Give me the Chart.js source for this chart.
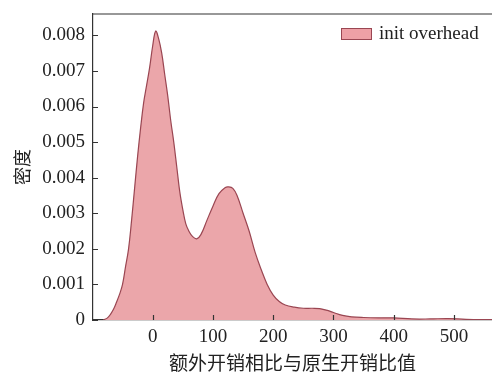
<!DOCTYPE html>
<html>
<head>
<meta charset="utf-8">
<script src="https://cdn.jsdelivr.net/npm/chart.js@4/dist/chart.umd.min.js"></script>
<style>
  html, body { margin:0; padding:0; background:#fff; }
  canvas { display:block; }
</style>
</head>
<body>
<canvas id="kdeChart" width="492" height="372"></canvas>
<script>

// density curve
const overheadX = [
  -82, -75, -70, -65, -60, -55, -50, -45, -40, -35, -30, -25, -20, -15, -10, -5,
  0, 5, 10, 15, 20, 25, 30, 35, 40, 45, 50, 55, 60, 66, 73, 80, 90, 100, 110,
  120, 126, 133, 140, 150, 160, 170, 180, 190, 200, 210, 220, 235, 250, 265,
  277, 290, 300, 315, 330, 350, 375, 400, 430, 460, 490, 520, 563
]
const overheadDensity = [
  0, 0.00006, 0.00016, 0.0003, 0.0005, 0.00072, 0.001, 0.0015, 0.002, 0.0028,
  0.0037, 0.0046, 0.0054, 0.0061, 0.0066, 0.0071,
  0.0077, 0.00812, 0.0079, 0.0075, 0.0069, 0.0063, 0.0056, 0.005, 0.0043,
  0.0036, 0.0031, 0.0027, 0.0025, 0.00235, 0.00228, 0.0024, 0.0028, 0.0032,
  0.00355, 0.00372, 0.00374, 0.0037, 0.0035, 0.003, 0.0025, 0.0019, 0.00142,
  0.001, 0.0007, 0.00052, 0.00042, 0.00036, 0.00033, 0.00033, 0.00032,
  0.00027, 0.00021, 0.00013, 0.00009, 0.00007, 0.00006, 0.00006, 0.00003,
  0.00003, 0.00004, 0.00002, 0.00001
]

const xTicks = [0, 100, 200, 300, 400, 500]
const yTicks = [0, 0.001, 0.002, 0.003, 0.004, 0.005, 0.006, 0.007, 0.008]
const yTickLabels = ['0', '0.001', '0.002', '0.003', '0.004', '0.005', '0.006', '0.007', '0.008']

const seriesLabel = 'init overhead'
const xTitle = '额外开销相比与原生开销比值'
const yTitle = '密度'

const points = overheadX.map((x, i) => ({ x: x, y: overheadDensity[i] }))

const serif = "'Liberation Serif', 'DejaVu Serif', serif"
const cjk = "'Noto Sans CJK SC', sans-serif"
const axisColor = '#333'
const lineColor = '#9a4652'

// inward ticks, top spine and the legend in the upper right
const frame = {
  id: 'frame',
  afterDatasetsDraw(chart){
    const c = chart.ctx
    const a = chart.chartArea
    const xs = chart.scales.x
    const ys = chart.scales.y
    c.save()
    c.strokeStyle = axisColor
    c.lineWidth = 1.2
    c.beginPath()
    c.moveTo(a.left, a.top)
    c.lineTo(a.right, a.top)
    xTicks.forEach(v=>{
      const px = Math.round(xs.getPixelForValue(v)) + 0.5
      c.moveTo(px, a.bottom)
      c.lineTo(px, a.bottom - 5)
    })
    yTicks.forEach(v=>{
      const py = Math.round(ys.getPixelForValue(v)) + 0.5
      c.moveTo(a.left, py)
      c.lineTo(a.left + 5, py)
    })
    c.stroke()

    // legend
    const bx = a.right - 151
    const by = a.top + 14
    c.fillStyle = '#eea0a6'
    c.fillRect(bx, by, 30, 11)
    c.strokeStyle = lineColor
    c.lineWidth = 1
    c.strokeRect(bx + 0.5, by + 0.5, 30, 11)
    c.fillStyle = '#222'
    c.font = '19px ' + serif
    c.textBaseline = 'middle'
    c.textAlign = 'left'
    c.fillText(seriesLabel, bx + 38, by + 6)
    c.restore()
  }
}

new Chart(document.getElementById('kdeChart'), {
  type: 'line',
  data: {
    datasets: [{
      label: seriesLabel,
      data: points,
      borderColor: lineColor,
      borderWidth: 1.2,
      backgroundColor: '#eba6aa',
      fill: 'origin',
      pointRadius: 0,
      tension: 0.4
    }]
  },
  options: {
    responsive: false,
    animation: false,
    layout: { padding: { top: 14, right: 0, left: 0, bottom: 0 } },
    plugins: {
      tooltip: { enabled: false },
      legend: { display: false }
    },
    scales: {
      x: {
        type: 'linear',
        min: -99,
        max: 563,
        grid: { display: false, drawTicks: false },
        border: { display: true, color: axisColor, width: 1.2 },
        afterBuildTicks(scale){ scale.ticks = xTicks.map(v=>({ value: v })) },
        afterFit(scale){
          scale.height = 52
          scale.paddingLeft = 0
          scale.paddingRight = 0
        },
        ticks: {
          color: '#222',
          padding: 6,
          font: { family: serif, size: 19 },
          callback: v => String(v)
        },
        title: {
          display: true,
          text: xTitle,
          color: '#222',
          padding: 0,
          font: { family: cjk, size: 19, lineHeight: 1 }
        }
      },
      y: {
        min: 0,
        max: 0.0086,
        grid: { display: false, drawTicks: false },
        border: { display: true, color: axisColor, width: 1.2 },
        afterBuildTicks(scale){ scale.ticks = yTicks.map(v=>({ value: v })) },
        afterFit(scale){
          scale.width = 93
          scale.paddingTop = 0
          scale.paddingBottom = 0
        },
        ticks: {
          color: '#222',
          padding: 8,
          font: { family: serif, size: 19 },
          callback: (v, i) => yTickLabels[i]
        },
        title: {
          display: true,
          text: yTitle,
          color: '#222',
          padding: { top: 13, bottom: 0 },
          font: { family: cjk, size: 18, lineHeight: 1 }
        }
      }
    }
  },
  plugins: [frame]
})

</script>
</body>
</html>
